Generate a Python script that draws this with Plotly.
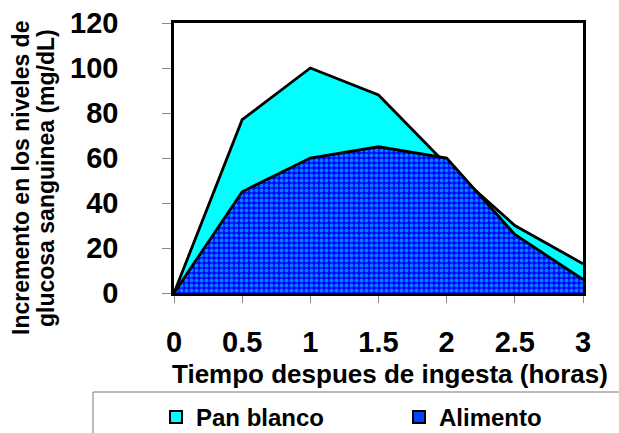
import plotly.graph_objects as go

hours = [0, 0.5, 1, 1.5, 2, 2.5, 3]
pan_blanco = [0, 77, 100, 88, 57, 30, 13]
alimento = [0, 45, 60, 65, 60, 26, 6]
x_ticks = [0, 0.5, 1, 1.5, 2, 2.5, 3]
x_ticklabels = ["0", "0.5", "1", "1.5", "2", "2.5", "3"]
y_ticks = [0, 20, 40, 60, 80, 100, 120]
series_names = ["Pan blanco", "Alimento"]
y_title_lines = ["Incremento en los niveles de", "glucosa sanguinea (mg/dL)"]
x_title = "Tiempo despues de ingesta (horas)"

FONT = "Arial, Liberation Sans, sans-serif"
W, H = 619, 433
L, R, T, B = 174, 36, 23, 140

fig = go.Figure()
fig.add_trace(go.Scatter(
    x=hours, y=pan_blanco, name=series_names[0], mode="lines",
    fill="tozeroy", fillcolor="#00FFFF",
    line=dict(color="black", width=2.8), showlegend=False))
fig.add_trace(go.Scatter(
    x=hours, y=alimento, name=series_names[1], mode="lines",
    fill="tozeroy", fillcolor="#0000FF",
    fillpattern=dict(shape=".", bgcolor="#0000FF", fgcolor="#00FFFF",
                     size=5, solidity=0.5),
    line=dict(color="black", width=2.8), showlegend=False))

# legend entries (square swatches)
fig.add_trace(go.Scatter(
    x=[None], y=[None], mode="markers", name=series_names[0],
    marker=dict(symbol="square", size=14, color="#00FFFF",
                line=dict(color="black", width=1.5))))
fig.add_trace(go.Scatter(
    x=[None], y=[None], mode="markers", name=series_names[1],
    marker=dict(symbol="square", size=14, color="#0044FF",
                line=dict(color="black", width=1.5))))

pw = W - L - R
ph = H - T - B
def px_x(p):
    return (p - L) / pw
def px_y(p):
    return (H - B - p) / ph

fig.update_layout(
    width=W, height=H,
    margin=dict(l=L, r=R, t=T, b=B, pad=0, autoexpand=False),
    paper_bgcolor="white", plot_bgcolor="white",
    font=dict(family=FONT, color="black"),
    showlegend=True,
    legend=dict(orientation="h", xref="paper", yref="paper",
                x=px_x(156), y=px_y(395), xanchor="left", yanchor="top",
                font=dict(size=24, family=FONT, weight="bold"),
                entrywidth=198, entrywidthmode="pixels",
                itemsizing="constant", bgcolor="rgba(0,0,0,0)",
                borderwidth=0, tracegroupgap=0),
    xaxis=dict(range=[0, 3], tickvals=x_ticks, ticktext=x_ticklabels,
               showgrid=False, zeroline=False, automargin=False,
               showline=True, linecolor="black", linewidth=3, mirror=True,
               ticks="outside", ticklen=7, tickcolor="#888888", tickwidth=1,
               ticklabelstandoff=14,
               tickfont=dict(size=29, family=FONT, weight="bold")),
    yaxis=dict(range=[0, 120], tickvals=y_ticks,
               showgrid=False, zeroline=False, automargin=False,
               showline=True, linecolor="black", linewidth=2.5, mirror=True,
               ticks="outside", ticklen=9, tickcolor="#888888", tickwidth=1,
               ticklabelstandoff=38,
               tickfont=dict(size=29, family=FONT, weight="bold")),
    annotations=[
        dict(text=x_title, xref="paper", yref="paper",
             x=px_x(390), y=px_y(374), showarrow=False,
             xanchor="center", yanchor="middle",
             font=dict(size=26, family=FONT, weight="bold")),
        dict(text=y_title_lines[0],
             xref="paper", yref="paper", x=px_x(21), y=px_y(178),
             showarrow=False, textangle=-90, xanchor="center", yanchor="middle",
             font=dict(size=23, family=FONT, weight="bold")),
        dict(text=y_title_lines[1],
             xref="paper", yref="paper", x=px_x(46), y=px_y(178),
             showarrow=False, textangle=-90, xanchor="center", yanchor="middle",
             font=dict(size=23, family=FONT, weight="bold")),
    ],
    shapes=[
        dict(type="rect", xref="paper", yref="paper",
             x0=px_x(93), x1=px_x(640), y0=px_y(392), y1=px_y(445),
             line=dict(color="#777777", width=1), fillcolor="rgba(0,0,0,0)",
             layer="below"),
    ],
)

fig.write_html("out.html",
               config={"displayModeBar": False},
               post_script="document.body.style.margin='0';"
                           "document.body.style.overflow='hidden';")
